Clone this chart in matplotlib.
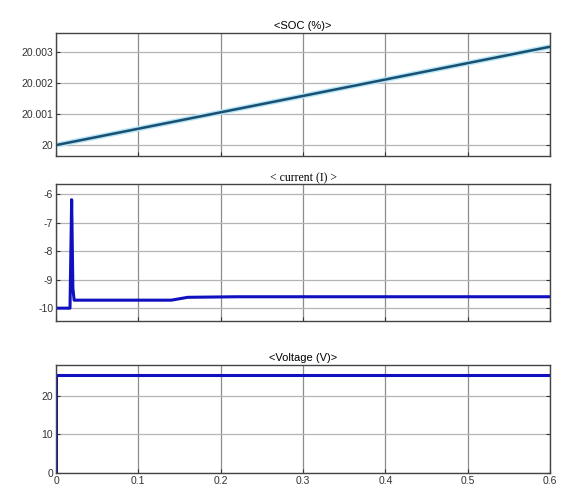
import numpy as np
import matplotlib
matplotlib.use("Agg")
import matplotlib.pyplot as plt

plt.rcParams['font.family'] = ['Liberation Sans', 'DejaVu Sans']
plt.rcParams['axes.unicode_minus'] = False

# SOC (%)
soc_t = [0.0, 0.6]
soc_v = [20.0, 20.00316]

# current (I)
cur_t = [0.0, 0.017, 0.019, 0.0205, 0.022, 0.06, 0.14, 0.16, 0.22, 0.6]
cur_v = [-10.0, -10.0, -6.2, -9.3, -9.72, -9.72, -9.72, -9.62, -9.6, -9.6]

# Voltage (V)
volt_t = [0.0, 0.0, 0.6]
volt_v = [0.0, 25.4, 25.4]

xticks = [0, 0.1, 0.2, 0.3, 0.4, 0.5, 0.6]
xticklabels = ['0', '0.1', '0.2', '0.3', '0.4', '0.5', '0.6']

fig = plt.figure(figsize=(5.64, 4.95), dpi=100)
ax1 = fig.add_axes([0.0993, 0.6848, 0.876, 0.2485])
ax2 = fig.add_axes([0.0993, 0.3515, 0.876, 0.2768])
ax3 = fig.add_axes([0.0993, 0.0444, 0.876, 0.218])

def style(ax):
    ax.set_xlim(0, 0.6)
    ax.set_xticks(xticks)
    ax.grid(True, axis='x', color='#8c8c8c', lw=0.9)
    ax.grid(True, axis='y', color='#b4b4b4', lw=0.9)
    ax.tick_params(direction='in', length=3, labelsize=7.5, colors='#333333',
                   right=True, top=False, pad=2)
    for s in ax.spines.values():
        s.set_color('#444444')
        s.set_linewidth(1.0)

ax1.plot(soc_t, soc_v, color='#b5e6f6', lw=3.8, solid_capstyle='butt')
ax1.plot(soc_t, soc_v, color='#1b4f72', lw=1.8)
ax1.set_ylim(19.99965, 20.0036)
ax1.set_yticks([20.0, 20.001, 20.002, 20.003])
ax1.set_yticklabels(['20', '20.001', '20.002', '20.003'])
style(ax1)
ax1.set_xticklabels([])
ax1.set_title('<SOC (%)>', fontsize=8, pad=3)

ax2.plot(cur_t, cur_v, color='#1010c0', lw=2.2)
ax2.set_ylim(-10.45, -5.65)
ax2.set_yticks([-10, -9, -8, -7, -6])
style(ax2)
ax2.set_xticklabels([])
ax2.set_title('< current (I) >', fontsize=8.5, pad=2,
              family=['Liberation Serif', 'DejaVu Serif'])

ax3.plot(volt_t, volt_v, color='#1010c0', lw=2.2)
ax3.set_ylim(0, 28)
ax3.set_yticks([0, 10, 20])
style(ax3)
ax3.set_xticklabels(xticklabels)
ax3.set_title('<Voltage (V)>', fontsize=8, pad=3)

fig.savefig('out.png', dpi=100)
